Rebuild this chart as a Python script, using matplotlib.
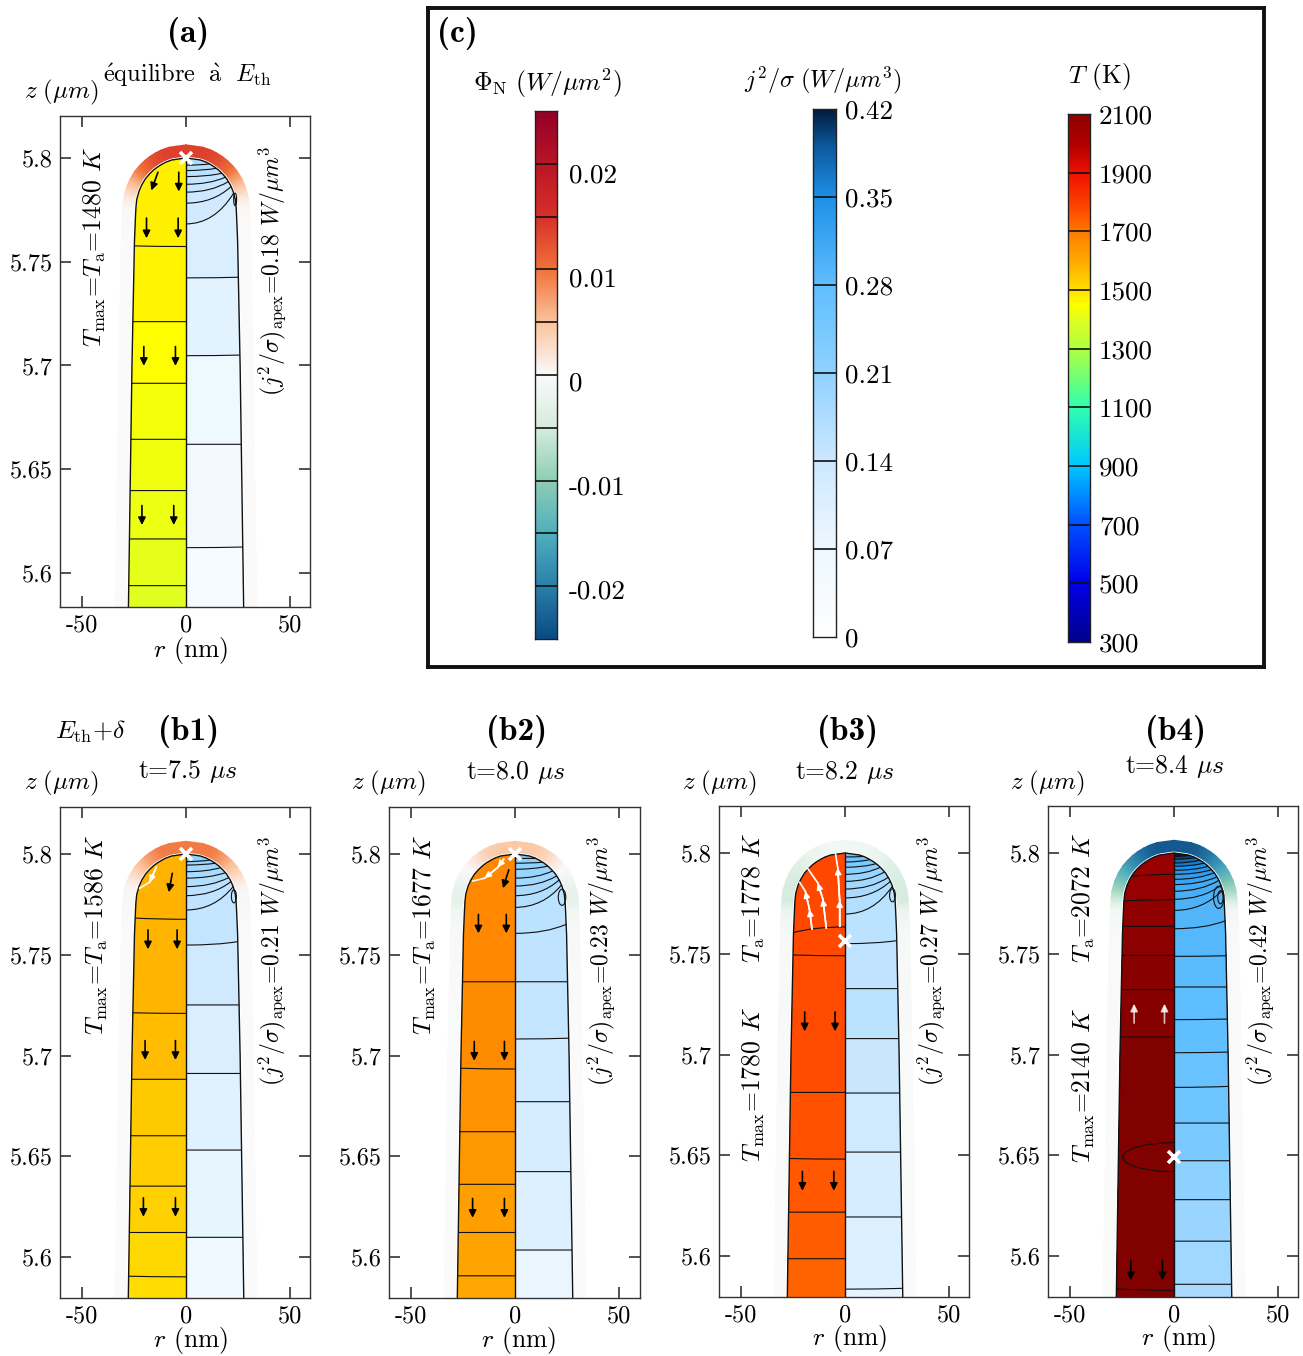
import matplotlib
matplotlib.use('Agg')
import matplotlib.pyplot as plt
import numpy as np
from matplotlib.colors import LinearSegmentedColormap, Normalize
from matplotlib.patches import Arc, Ellipse, PathPatch, Polygon
from matplotlib.path import Path

plt.rcParams['font.family'] = ['cmr10', 'DejaVu Serif']
plt.rcParams['mathtext.fontset'] = 'cm'
plt.rcParams['axes.unicode_minus'] = False

W, H = 1303, 1356

# tip outline, nm below the apex -> radius in nm
profile_depth = [0, 1, 2, 3, 4.5, 6, 8, 10, 13, 16, 20, 24, 28, 40, 100, 230]
profile_r = [0, 6.9, 9.6, 11.5, 13.9, 15.8, 17.8, 19.5, 21.3, 22.6, 23.7, 24.1, 24.3, 24.8, 26, 27.9]

# flux along the outline, same points as the profile
a_flux = [.0138, .0138, .0135, .0132, .0125, .0115, .0105, .0088, .0062, .004, .0015, .0004, .0001, 0, 0, 0]
b1_flux = [.0095, .0095, .0095, .009, .008, .007, .0055, .0042, .0025, .001, -.0005, -.0008, -.0004, -.0001, 0, 0]
b2_flux = [.0045, .0045, .0042, .0038, .003, .002, .001, 0, -.0012, -.002, -.0028, -.003, -.0012, -.0004, -.0001, 0]
b3_flux = [-.001, -.0012, -.0014, -.0017, -.002, -.0026, -.0032, -.0038, -.0043, -.0048, -.005, -.005, -.002, -.0005, -.0002, -.0001]
b4_flux = [-.0235, -.0235, -.023, -.022, -.021, -.0195, -.018, -.016, -.0135, -.011, -.008, -.0045, -.0012, -.0003, -.0001, 0]

# isotherms on the left half: depth on the axis and at the wall, T per band (K)
a_left_axis = [42.7, 78.9, 108.6, 135.6, 160.3, 183.6, 206.1]
a_left_edge = [42.4, 78.9, 108.6, 135.6, 160.3, 183.6, 206.1]
a_T = [1478, 1470, 1450, 1435, 1428, 1420, 1410, 1400]
b1_left_axis = [32.4, 79.1, 111.8, 139.8, 164.8, 187.8, 209.8]
b1_left_edge = [31.8, 78.8, 111.8, 139.8, 164.8, 187.8, 209.5]
b1_T = [1586, 1578, 1566, 1543, 1536, 1529, 1514, 1505]
b2_left_axis = [63.4, 106.7, 137.8, 163.9, 187.8, 209.3]
b2_left_edge = [63.4, 106.3, 137.8, 163.9, 187.8, 209.3]
b2_T = [1677, 1668, 1654, 1641, 1627, 1614, 1605]
b3_left_axis = [36.7, 51, 118.8, 151.9, 178.2, 201.3]
b3_left_edge = [39.5, 50.6, 118.8, 151.6, 178.2, 201.3]
b3_T = [1780, 1778, 1772, 1765, 1752, 1746, 1734]
b4_left_axis = [10.6, 23.2, 36.4, 50.8, 67.8, 91.3, 217]
b4_left_edge = [11.6, 23.8, 36.4, 50.8, 67.8, 91.3, 216.2]
b4_T = [2072, 2085, 2095, 2105, 2115, 2125, 2135, 2140]

# j2/sigma contours on the right half
a_right_axis = [3.5, 6.1, 9, 12.7, 16.5, 21.8, 31.8, 57.8, 95.3, 138, 187.8]
a_right_edge = [2.9, 5, 7.4, 9.3, 11.4, 13.8, 17, 57.5, 95, 138, 187.5]
a_j = [.18, .17, .16, .15, .145, .14, .13, .115, .095, .07, .05, .04]
b1_right_axis = [3.8, 5.5, 8.8, 12, 16.2, 20.7, 27.8, 45.2, 74.9, 108.9, 146.9, 190.2]
b1_right_edge = [3, 4.6, 6.8, 9.3, 11.7, 13.7, 16.2, 43.5, 74.9, 108.9, 146.9, 190.2]
b1_j = [.21, .2, .19, .18, .17, .16, .155, .15, .135, .115, .1, .085, .065]
b2_right_axis = [2.2, 4.6, 7.6, 12, 15.9, 20.7, 26.5, 39.4, 63.4, 91.8, 122.9, 157.6, 196.5]
b2_right_edge = [2.2, 4.1, 6, 8.4, 10.9, 12.9, 15.4, 34.9, 63.4, 91.4, 122.9, 157.6, 196.5]
b2_j = [.23, .22, .21, .2, .19, .18, .17, .16, .155, .15, .135, .12, .105, .08]
b3_right_axis = [2, 4.5, 7.1, 10.6, 14.1, 17.9, 22.3, 30.3, 45, 67.3, 92.1, 119.1, 148.4, 180.6, 216.4]
b3_right_edge = [1.7, 3.3, 5.3, 7.1, 9.4, 12.1, 14.1, 16.5, 43.5, 67.3, 92.1, 119.1, 148.4, 180.6, 216]
b3_j = [.27, .26, .24, .22, .2, .19, .18, .17, .16, .155, .16, .145, .135, .12, .105, .09]
b4_right_axis = [1.7, 3.1, 5, 6.6, 8.6, 10.6, 13.1, 15.7, 19, 23, 28.5, 37.6, 51.3, 66.5, 82.7, 99.1, 116.3, 134, 152.7, 172, 192.6, 214]
b4_right_edge = [1.2, 2.3, 3.6, 5, 6.6, 8.3, 9.8, 11.9, 13.6, 16, 18.5, 33.7, 51, 66.5, 82.4, 98.8, 115.8, 134, 152.7, 172, 192.6, 214]
b4_j = [.42, .40, .38, .365, .35, .34, .33, .32, .31, .305, .30, .295, .29, .285, .283, .28, .27, .26, .24, .215, .2, .19, .18]

# small closed contours near the wall: r, depth, width, height (nm)
a_hooks = [(23.6, 20, 1.4, 6)]
b1_hooks = [(23, 21, 2.4, 6.5)]
b2_hooks = [(22.6, 21.5, 3.6, 8)]
b3_hooks = [(22.8, 21, 2.8, 6.5)]
b4_hooks = [(21.5, 22, 5, 11), (22.3, 22, 2.6, 6.5)]

# heat flow arrows: r0, depth0, r1, depth1
a_arrows = [(-13.5, 6.9, -16.7, 15.7), (-3.5, 6.9, -3.5, 16.2), (-19, 29, -19, 38.7), (-3.8, 29, -3.8, 38.7),
            (-20.3, 90.9, -20.3, 100.2), (-5.1, 90.9, -5.1, 100.2), (-21.2, 167.5, -21.2, 176.9), (-5.9, 167.5, -5.9, 176.9)]
b1_arrows = [(-6.6, 9.6, -8.3, 19), (-18.3, 37.7, -18.3, 47.3), (-4.3, 37.7, -4.3, 47.3), (-19.7, 92.6, -19.7, 102.2),
             (-5.1, 92.6, -5.1, 102.2), (-20.5, 170.6, -20.5, 180), (-5.1, 170.6, -5.1, 180)]
b2_arrows = [(-3, 7.9, -5.8, 17), (-17.6, 30, -17.6, 39.4), (-4.2, 30, -4.2, 39.4), (-19.6, 93, -19.6, 102.6),
             (-5.1, 93, -5.1, 102.6), (-20.4, 170.9, -20.4, 180.5), (-5.1, 170.9, -5.1, 180.5)]
b3_arrows = [(-19.4, 78.9, -19.4, 88.5), (-4.8, 78.9, -4.8, 88.5), (-20.5, 158, -20.5, 167.6), (-5.4, 158, -5.4, 167.6)]
b4_arrows = [(-20.8, 202, -20.8, 212), (-5.6, 202, -5.6, 212)]
b4_up_arrows = [(-19.2, 84.4, -19.2, 74.8), (-4.6, 84.4, -4.6, 74.8)]

# white stream lines (r, depth)
b1_streams = [[(-14.3, 6.6), (-17.5, 14), (-22.3, 17)]]
b2_streams = [[(-5.4, 2.6), (-8.2, 6.6), (-14.6, 12), (-20.2, 13.4)]]
b3_streams = [[(-15.9, 37.7), (-17.1, 28), (-19.1, 19), (-21.8, 14.6)],
              [(-9, 37.2), (-10.7, 22.8), (-13.1, 14.9), (-17.8, 7.9)],
              [(-2.6, 36.4), (-2.6, 23.5), (-3.5, 7.4), (-4.6, 0.3)]]

# colour bars
phi_levels = [-.025, -.02, -.015, -.01, -.005, 0, .005, .01, .015, .02, .025]
phi_colors = ['#0a4a85', '#2b80ab', '#50afbe', '#8fceb5', '#d6ecdf', '#fafafa', '#fcc49e', '#f0733a', '#d8302a', '#bb1526', '#930028']
phi_tick_pos = [.01913, .00928, -.00057, -.0104, -.02027]
phi_tick_labels = ['0.02', '0.01', '0', '-0.01', '-0.02']

j_levels = [0, .07, .14, .21, .28, .35, .39, .42]
j_colors = ['#ffffff', '#eef8ff', '#cde8ff', '#90d2ff', '#60bfff', '#1e90e8', '#0d5aa0', '#021b3c']
j_ticks = [0, .07, .14, .21, .28, .35, .42]
j_tick_labels = ['0', '0.07', '0.14', '0.21', '0.28', '0.35', '0.42']

T_levels = [300, 500, 700, 900, 1100, 1300, 1400, 1450, 1480, 1500, 1600, 1677, 1778, 1900, 2000, 2072, 2140]
T_colors = ['#00008b', '#0000ea', '#0050ff', '#00c8ff', '#30ffb0', '#b0ff40', '#e0ff20', '#ffff00', '#ffee00', '#ffe000',
            '#ffaa00', '#ff8800', '#ff4800', '#f01000', '#b00000', '#9a0000', '#800000']
T_ticks = [300, 500, 700, 900, 1100, 1300, 1500, 1700, 1900, 2100]


def make_cmap(levels, colors):
    norm = Normalize(levels[0], levels[-1])
    nodes = [(float(norm(v)), c) for v, c in zip(levels, colors)]
    return LinearSegmentedColormap.from_list('bar', nodes, N=1024), norm


phi_cmap, phi_norm = make_cmap(phi_levels, phi_colors)
j_cmap, j_norm = make_cmap(j_levels, j_colors)
T_cmap, T_norm = make_cmap(T_levels, T_colors)

fig = plt.figure(figsize=(W / 100, H / 100), dpi=100)


def px_axes(x0, y0, x1, y1, **kw):
    return fig.add_axes([x0 / W, 1 - y1 / H, (x1 - x0) / W, (y1 - y0) / H], **kw)


def px_text(x, y, s, **kw):
    kw.setdefault('fontsize', 18.5)
    kw.setdefault('ha', 'center')
    kw.setdefault('va', 'center')
    fig.text(x / W, 1 - y / H, s, **kw)


def to_z(depth):
    return 5.8 - np.asarray(depth, dtype=float) / 1000


def wall_r(depth):
    return np.interp(depth, profile_depth, profile_r)


def contour_path(side, d_axis, d_edge):
    r_end = side * wall_r(d_edge)
    return [(0, to_z(d_axis)), (0.6 * r_end, to_z(d_axis)), (r_end, to_z(d_edge))]


def draw_half(ax, clip, side, axis, edge, values, cmap, norm):
    # painter's order: the tip colour first, each band below it on top
    rect = Polygon([(0, to_z(-1)), (side * 45, to_z(-1)), (side * 45, to_z(240)), (0, to_z(240))],
                   facecolor=cmap(norm(values[0])), edgecolor='none', zorder=2)
    ax.add_patch(rect)
    rect.set_clip_path(clip)
    for da, de, v in zip(axis, edge, values[1:]):
        p0, p1, p2 = contour_path(side, da, de)
        verts = [p0, p1, p2, (side * 45, p2[1]), (side * 45, to_z(240)), (0, to_z(240)), p0]
        codes = [Path.MOVETO, Path.CURVE3, Path.CURVE3, Path.LINETO, Path.LINETO, Path.LINETO, Path.CLOSEPOLY]
        band = PathPatch(Path(verts, codes), facecolor=cmap(norm(v)), edgecolor='none', zorder=2)
        ax.add_patch(band)
        band.set_clip_path(clip)
    for da, de in zip(axis, edge):
        p0, p1, p2 = contour_path(side, da, de)
        line = PathPatch(Path([p0, p1, p2], [Path.MOVETO, Path.CURVE3, Path.CURVE3]), facecolor='none',
                         edgecolor='#111111', lw=0.8, zorder=3)
        ax.add_patch(line)


def draw_flux(ax, flux):
    depth = np.array(profile_depth, dtype=float)
    r = np.array(profile_r, dtype=float)
    # run over the whole outline, left foot to right foot
    rr = np.concatenate([-r[::-1], r[1:]])
    dd = np.concatenate([depth[::-1], depth[1:]])
    ff = np.concatenate([np.array(flux)[::-1], np.array(flux)[1:]])
    tr = np.gradient(rr)
    td = np.gradient(dd)
    ln = np.hypot(tr, td)
    nr, nd = td / ln, -tr / ln
    X = np.vstack([rr + nr * 1.0, rr + nr * 6.3])
    Y = np.vstack([dd + nd * 1.0, dd + nd * 6.3])
    C = np.vstack([ff, ff])
    ax.pcolormesh(X, to_z(Y), C, shading='gouraud', cmap=phi_cmap, norm=phi_norm, zorder=1)


def draw_arrows(ax, arrows, color='black', alpha=1):
    for r0, d0, r1, d1 in arrows:
        ax.annotate('', xy=(r1, to_z(d1)), xytext=(r0, to_z(d0)), zorder=6,
                    arrowprops=dict(arrowstyle='-|>', color=color, lw=1.2, alpha=alpha, mutation_scale=11,
                                    shrinkA=0, shrinkB=0))


def draw_streams(ax, streams):
    for pts in streams:
        for (r0, d0), (r1, d1) in zip(pts[:-1], pts[1:]):
            ax.plot([r0, r1], to_z([d0, d1]), color='white', lw=1.2, zorder=6)
        for (r0, d0), (r1, d1) in zip(pts[:-2], pts[1:-1]):
            ax.annotate('', xy=(r1, to_z(d1)), xytext=(r0, to_z(d0)), zorder=6,
                        arrowprops=dict(arrowstyle='-|>', color='white', lw=1.2, mutation_scale=9, shrinkA=0, shrinkB=0))


def draw_panel(box, ylim, xlim, flux, left, T, right, j, hooks, arrows, streams, cross):
    ax = px_axes(*box)
    ax.set_xlim(*xlim)
    ax.set_ylim(*ylim)

    draw_flux(ax, flux)

    depth = np.array(profile_depth)
    r = np.array(profile_r)
    outline_r = np.concatenate([-r[::-1], r[1:]])
    outline_d = np.concatenate([depth[::-1], depth[1:]])
    clip = Polygon(np.column_stack([outline_r, to_z(outline_d)]), closed=True, facecolor='none', edgecolor='#111111',
                   lw=1.0, zorder=4)
    ax.add_patch(clip)

    draw_half(ax, clip, -1, left[0], left[1], T, T_cmap, T_norm)
    draw_half(ax, clip, 1, right[0], right[1], j, j_cmap, j_norm)
    ax.plot([0, 0], to_z([0, 240]), color='#111111', lw=1.0, zorder=4)

    for hr, hd, hw, hh in hooks:
        ax.add_patch(Ellipse((hr, to_z(hd)), hw, hh / 1000, facecolor='none', edgecolor='#111111', lw=0.8, zorder=3))

    draw_arrows(ax, arrows)
    draw_streams(ax, streams)
    ax.plot([cross[0]], [to_z(cross[1])], marker='x', ms=9, mew=2.6, color='white', zorder=8, clip_on=False)

    ax.set_xticks([-50, 0, 50])
    ax.set_xticklabels(['-50', '0', '50'])
    ax.set_yticks([5.6, 5.65, 5.7, 5.75, 5.8])
    ax.set_yticklabels(['5.6', '5.65', '5.7', '5.75', '5.8'])
    ax.tick_params(direction='in', top=True, right=True, length=8, width=1.1, labelsize=17.5, pad=5, color='#222222')
    for s in ax.spines.values():
        s.set_linewidth(1.0)
        s.set_color('#333333')
    return ax


ylim_a = (5.5836, 5.8202)
ylim_b = (5.5797, 5.8233)
xlim_std = (-60.6, 59.6)

ax_a = draw_panel((60, 116, 310, 607), ylim_a, xlim_std, a_flux, (a_left_axis, a_left_edge), a_T,
                  (a_right_axis, a_right_edge), a_j, a_hooks, a_arrows, [], (0, 0))
ax_b1 = draw_panel((60, 807, 310, 1298), ylim_b, xlim_std, b1_flux, (b1_left_axis, b1_left_edge), b1_T,
                   (b1_right_axis, b1_right_edge), b1_j, b1_hooks, b1_arrows, b1_streams, (0, 0))
ax_b2 = draw_panel((389, 807, 640, 1298), ylim_b, (-60.6, 60.1), b2_flux, (b2_left_axis, b2_left_edge), b2_T,
                   (b2_right_axis, b2_right_edge), b2_j, b2_hooks, b2_arrows, b2_streams, (0, 0))
ax_b3 = draw_panel((719, 806, 969, 1297), ylim_b, xlim_std, b3_flux, (b3_left_axis, b3_left_edge), b3_T,
                   (b3_right_axis, b3_right_edge), b3_j, b3_hooks, b3_arrows, b3_streams, (0, 43.7))
ax_b4 = draw_panel((1048, 806, 1298, 1297), ylim_b, xlim_std, b4_flux, (b4_left_axis, b4_left_edge), b4_T,
                   (b4_right_axis, b4_right_edge), b4_j, b4_hooks, b4_arrows, [], (0, 150.9))
draw_arrows(ax_b4, b4_up_arrows, color='white', alpha=0.75)
ax_b4.add_patch(Arc((0, to_z(150.9)), 49.4, 14.4 / 1000, theta1=90, theta2=270, edgecolor='#111111', lw=0.8, zorder=4))

# box of the colour bars
ax_box = px_axes(428, 8, 1264, 667)
ax_box.set_xticks([])
ax_box.set_yticks([])
for s in ax_box.spines.values():
    s.set_linewidth(2.8)
    s.set_color('#111111')


def draw_bar(box, vmin, vmax, cmap, norm, lines, ticks, labels, pad):
    ax = px_axes(*box)
    grad = np.linspace(vmin, vmax, 512).reshape(-1, 1)
    ax.imshow(grad, origin='lower', aspect='auto', extent=(0, 1, vmin, vmax), cmap=cmap, norm=norm, interpolation='bilinear')
    ax.hlines(lines, 0, 1, color='#111111', lw=1.2)
    ax.set_xticks([])
    ax.yaxis.tick_right()
    ax.set_yticks(ticks)
    ax.set_yticklabels(labels)
    ax.tick_params(length=0, labelsize=19.5, pad=pad)
    for s in ax.spines.values():
        s.set_linewidth(1.0)
        s.set_color('#222222')


draw_bar((535, 111, 557, 639), -.025, .025, phi_cmap, phi_norm, phi_levels[1:-1], phi_tick_pos, phi_tick_labels, 8.5)
draw_bar((813, 109, 836, 637), 0, .42, j_cmap, j_norm, j_ticks[1:-1], j_ticks, j_tick_labels, 6.5)
draw_bar((1068, 114, 1090, 642), 300, 2100, T_cmap, T_norm, T_ticks[1:-1], T_ticks, [str(t) for t in T_ticks], 6.5)

# titles and labels
bold = dict(family='cmb10', fontsize=24)
px_text(188, 33, '(a)', **bold)
px_text(189, 731, '(b1)', **bold)
px_text(517, 731, '(b2)', **bold)
px_text(847, 731, '(b3)', **bold)
px_text(1176, 731, '(b4)', **bold)
px_text(457, 33, '(c)', **bold)

px_text(187, 75, r'$\mathrm{\acute{e}quilibre}\ \ \mathrm{\grave{a}}\ \ E_{\rm th}$', fontsize=17.6)
px_text(91, 732, r'$E_{\rm th}{+}\delta$')
px_text(188, 771, r't=7.5 $\mu s$')
px_text(516, 772, r't=8.0 $\mu s$')
px_text(845, 773, r't=8.2 $\mu s$')
px_text(1175, 767, r't=8.4 $\mu s$')

for x, y in [(61, 92), (61, 783), (388, 783), (719, 783), (1047, 783)]:
    px_text(x, y, r'$z\ (\mu m)$', fontsize=18)
for x, y in [(191, 650), (191, 1340), (519, 1340), (850, 1339), (1179, 1339)]:
    px_text(x, y, r'$r$ (nm)')

px_text(548, 83, r'$\Phi_{\rm N}\ (W/\mu m^2)$')
px_text(823, 80, r'$j^2/\sigma\ (W/\mu m^3)$', fontsize=17.5)
px_text(1099, 77, r'$T$ (K)')

rot = dict(rotation=90)
px_text(95, 247, r'$T_{\rm max}$=$T_{\rm a}$=1480 $K$', **rot)
px_text(97, 935, r'$T_{\rm max}$=$T_{\rm a}$=1586 $K$', **rot)
px_text(425, 935, r'$T_{\rm max}$=$T_{\rm a}$=1677 $K$', **rot)
px_text(754, 898, r'$T_{\rm a}$=1778 $K$', **rot)
px_text(754, 1085, r'$T_{\rm max}$=1780 $K$', **rot)
px_text(1084, 898, r'$T_{\rm a}$=2072 $K$', **rot)
px_text(1084, 1086, r'$T_{\rm max}$=2140 $K$', **rot)
rot_j = dict(rotation=90, fontsize=17)
px_text(272, 271, r'$(j^2/\sigma)_{\rm apex}$=0.18 $W/\mu m^3$', **rot_j)
px_text(272, 961, r'$(j^2/\sigma)_{\rm apex}$=0.21 $W/\mu m^3$', **rot_j)
px_text(601, 961, r'$(j^2/\sigma)_{\rm apex}$=0.23 $W/\mu m^3$', **rot_j)
px_text(931, 961, r'$(j^2/\sigma)_{\rm apex}$=0.27 $W/\mu m^3$', **rot_j)
px_text(1260, 961, r'$(j^2/\sigma)_{\rm apex}$=0.42 $W/\mu m^3$', **rot_j)

fig.savefig('out.png', dpi=100)
